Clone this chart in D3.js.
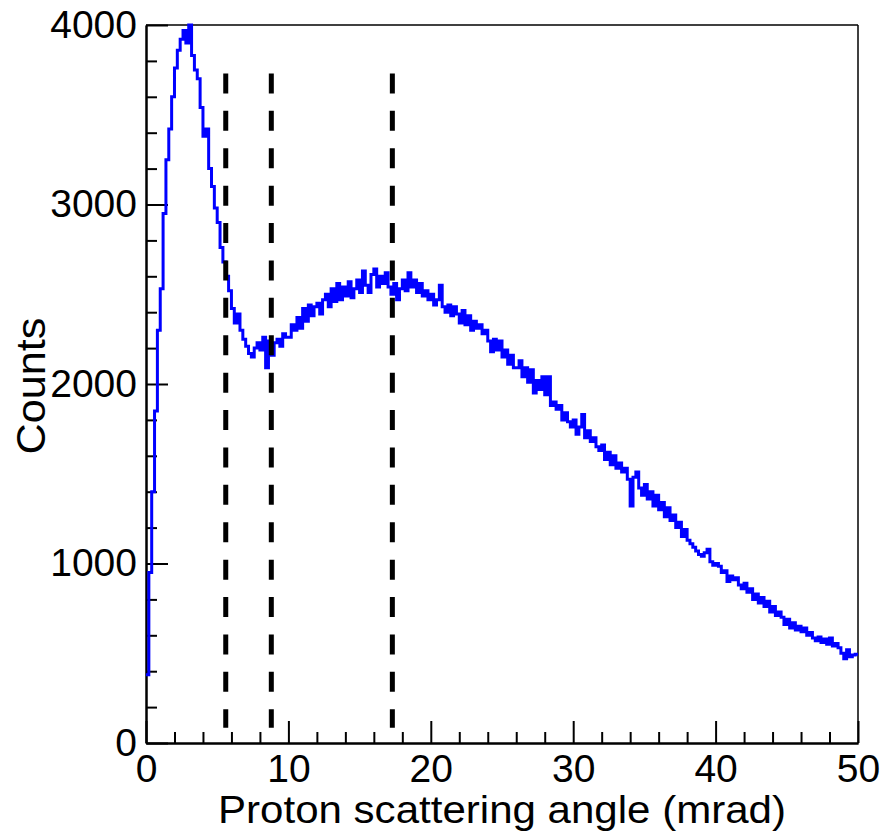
<!DOCTYPE html>
<html lang="en">
<head>
<meta charset="UTF-8">
<title>Proton scattering angle</title>
<script src="https://cdn.jsdelivr.net/npm/d3@7"></script>
<style>
  body { margin: 0; background: #fff; font-family: "Liberation Sans", Arial, sans-serif; }
  .axis text { font-size: 39px; fill: #000; font-family: "Liberation Sans", Arial, sans-serif; }
  .axis path, .axis line { stroke: #000; stroke-width: 2; }
</style>
</head>
<body>
<svg id="chart" width="884" height="834"></svg>
<script>
// histogram, 0.2 mrad bins from 0 to 50 mrad (one row = 2 mrad)
const binWidth = 0.2;
const counts = [
  380, 950, 1400, 1850, 2300, 2530, 2950, 3250, 3420, 3600,
  3760, 3860, 3920, 3970, 3900, 4000, 3830, 3750, 3700, 3540,
  3380, 3420, 3200, 3100, 2980, 2900, 2760, 2680, 2600, 2520,
  2420, 2340, 2390, 2300, 2250, 2210, 2170, 2150, 2200, 2230,
  2190, 2260, 2090, 2240, 2160, 2230, 2250, 2210, 2280, 2260,
  2260, 2330, 2300, 2370, 2310, 2420, 2350, 2440, 2380, 2430,
  2450, 2390, 2470, 2500, 2430, 2530, 2460, 2560, 2470, 2540,
  2490, 2570, 2480, 2530, 2580, 2510, 2630, 2550, 2510, 2610,
  2640, 2540, 2600, 2560, 2620, 2540, 2500, 2560, 2470, 2530,
  2580, 2520, 2620, 2540, 2580, 2510, 2560, 2490, 2520, 2470,
  2500, 2440, 2470, 2550, 2430, 2400, 2440, 2380, 2430, 2390,
  2340, 2410, 2330, 2380, 2300, 2350, 2310, 2330, 2280, 2300,
  2240, 2180, 2250, 2190, 2240, 2150, 2190, 2110, 2160, 2090,
  2090, 2130, 2040, 2090, 2010, 2080, 1950, 2020, 1970, 2040,
  1940, 2040, 1880, 1900, 1860, 1880, 1800, 1840, 1790, 1760,
  1800, 1720, 1760, 1830, 1700, 1740, 1680, 1700, 1650, 1630,
  1660, 1580, 1620, 1550, 1600, 1530, 1560, 1510, 1530, 1470,
  1320, 1480, 1510, 1420, 1380, 1440, 1360, 1400, 1320, 1380,
  1300, 1340, 1260, 1310, 1240, 1270, 1200, 1230, 1150, 1190,
  1130, 1110, 1090, 1070, 1050, 1040, 1060, 1080, 1010, 990,
  1000, 985, 950, 960, 900, 930, 910, 920, 880, 860,
  890, 840, 860, 800, 830, 780, 810, 760, 790, 730,
  760, 710, 730, 700, 660, 690, 640, 670, 630, 650,
  620, 640, 600, 615, 585, 570, 590, 560, 580, 550,
  585, 540, 555, 530, 500, 470, 520, 480, 490, 495
];

// dashed cut lines (mrad) and their vertical extent (counts)
const cutAngles = [5.6, 8.8, 17.3];
const cutRange = [85, 3730];

const xDomain = [0, 50];
const yDomain = [0, 4000];
const xMajor = [0, 10, 20, 30, 40, 50];
const yMajor = [0, 1000, 2000, 3000, 4000];
const xTitle = "Proton scattering angle (mrad)";
const yTitle = "Counts";

const margin = { top: 25, right: 26, bottom: 91, left: 146 },
      width = 884 - margin.left - margin.right,
      height = 834 - margin.top - margin.bottom;

const svg = d3.select("#chart");
svg.append("rect").attr("width", 884).attr("height", 834).attr("fill", "#fff");

const g = svg.append("g")
    .attr("transform", `translate(${margin.left},${margin.top})`);

const x = d3.scaleLinear().domain(xDomain).range([0, width]);
const y = d3.scaleLinear().domain(yDomain).range([height, 0]);

// minor ticks
const xMinor = d3.range(0, 50.001, 2).filter(v => v % 10 !== 0);
const yMinor = d3.range(0, 4000.1, 200).filter(v => v % 1000 !== 0);

g.append("g")
    .attr("class", "axis")
    .attr("transform", `translate(0,${height})`)
    .call(d3.axisBottom(x).tickValues(xMinor).tickSizeInner(-11).tickSizeOuter(0).tickFormat(""));

g.append("g")
    .attr("class", "axis")
    .call(d3.axisLeft(y).tickValues(yMinor).tickSizeInner(-11).tickSizeOuter(0).tickFormat(""));

// major ticks + labels
g.append("g")
    .attr("class", "axis")
    .attr("transform", `translate(0,${height})`)
    .call(d3.axisBottom(x).tickValues(xMajor).tickSizeInner(-22).tickSizeOuter(0).tickPadding(11).tickFormat(d3.format("d")));

g.append("g")
    .attr("class", "axis")
    .call(d3.axisLeft(y).tickValues(yMajor).tickSizeInner(-22).tickSizeOuter(0).tickPadding(9).tickFormat(d3.format("d")));

// frame top / right
g.append("line")
    .attr("x1", 0).attr("x2", width).attr("y1", 0).attr("y2", 0)
    .style("stroke", "#000").style("stroke-width", 1.5);
g.append("line")
    .attr("x1", width).attr("x2", width).attr("y1", 0).attr("y2", height)
    .style("stroke", "#000").style("stroke-width", 1.5);

// histogram as a step line
const pts = counts.map((c, i) => ({ a: i * binWidth, c: c }));
pts.push({ a: xDomain[1], c: counts[counts.length - 1] });

const step = d3.line()
    .x(d => x(d.a))
    .y(d => y(d.c))
    .curve(d3.curveStepAfter);

g.append("path")
    .datum(pts)
    .attr("d", step)
    .style("fill", "none")
    .style("stroke", "#0000ff")
    .style("stroke-width", 3);

// dashed lines
g.selectAll(".cut")
    .data(cutAngles)
    .enter().append("line")
    .attr("class", "cut")
    .attr("x1", d => x(d)).attr("x2", d => x(d))
    .attr("y1", y(cutRange[1])).attr("y2", y(cutRange[0]))
    .style("stroke", "#000")
    .style("stroke-width", 5)
    .style("stroke-dasharray", "20,17.4");

// titles
g.append("text")
    .attr("x", width / 2)
    .attr("y", height + 80)
    .attr("text-anchor", "middle")
    .attr("textLength", 568)
    .attr("lengthAdjust", "spacingAndGlyphs")
    .style("font-size", "38px")
    .text(xTitle);

g.append("text")
    .attr("transform", `translate(${45 - margin.left},${height / 2 + 2}) rotate(-90)`)
    .attr("text-anchor", "middle")
    .attr("textLength", 137)
    .attr("lengthAdjust", "spacingAndGlyphs")
    .style("font-size", "41px")
    .text(yTitle);
</script>
</body>
</html>
